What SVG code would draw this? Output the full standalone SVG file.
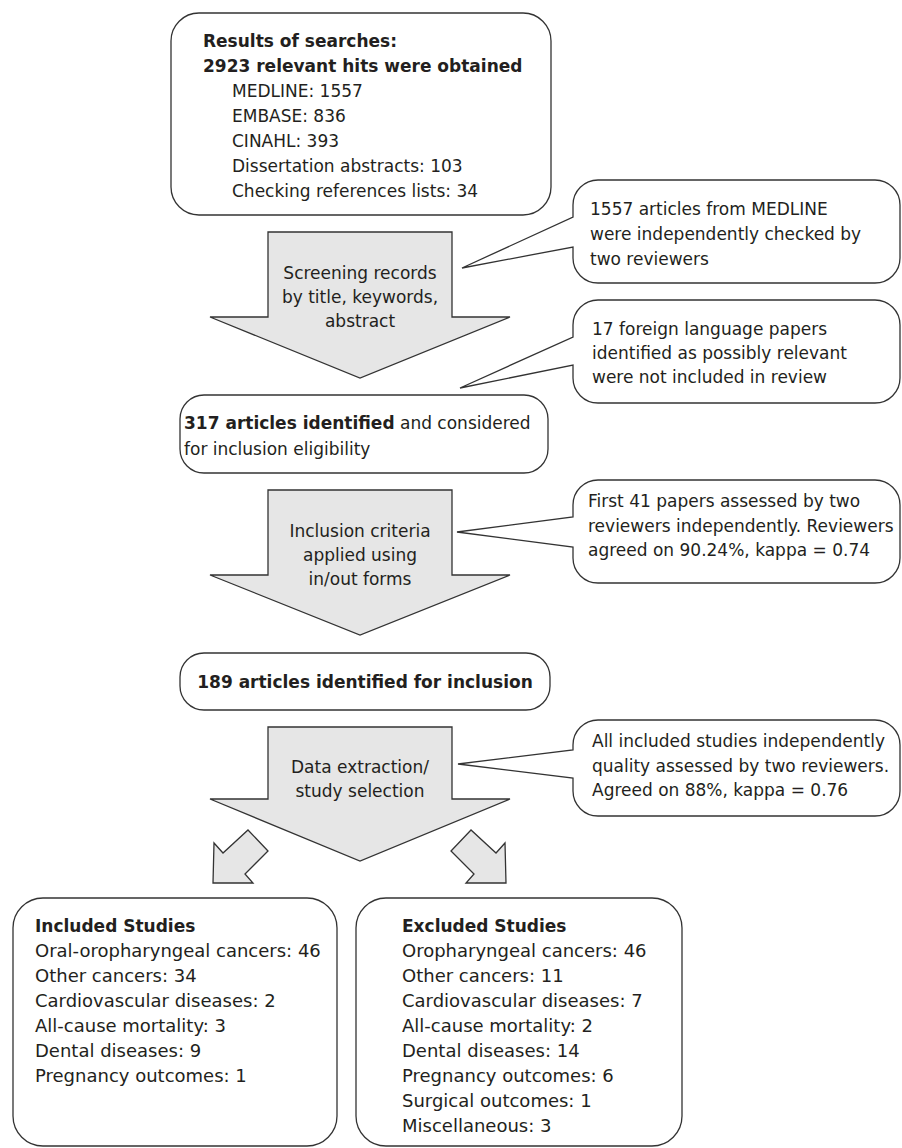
<svg xmlns="http://www.w3.org/2000/svg" width="902" height="1148" viewBox="0 0 902 1148">
<style>
.box{fill:#fff;stroke:#333;stroke-width:1.3}
.arr{fill:#e6e6e6;stroke:#333;stroke-width:1.3;stroke-linejoin:miter}
text{font-family:"DejaVu Sans",Verdana,sans-serif;font-size:17px;fill:#231f20}
.b{font-weight:bold}
.c{text-anchor:middle}
.l{font-size:18px}
</style>
<rect width="902" height="1148" fill="#fff"/>
<g id="connectors">
<polygon class="arr" points="268,232 452,232 452,317 510,317 360,378 210,317 268,317"/>
<polygon class="arr" points="268,490 452,490 452,575 510,575 360,635 210,575 268,575"/>
<polygon class="arr" points="268,727 452,727 452,799 510,799 360,861 210,799 268,799"/>
<polygon class="arr" points="248,830 268,851 245,874 253,883 213,883 214,843 223,853"/>
<polygon class="arr" points="471,830 451,851 474,874 466,883 506,883 505,843 496,853"/>
</g>
<g id="arrow-labels">
<text class="c" x="360" y="279">Screening records</text>
<text class="c" x="360" y="303">by title, keywords,</text>
<text class="c" x="360" y="327">abstract</text>
<text class="c" x="360" y="537">Inclusion criteria</text>
<text class="c" x="360" y="561">applied using</text>
<text class="c" x="360" y="585">in/out forms</text>
<text class="c" x="360" y="773">Data extraction/</text>
<text class="c" x="360" y="797">study selection</text>
</g>
<g id="search-results">
<rect class="box" x="171" y="13" width="380" height="202" rx="28"/>
<text class="b" x="203" y="47">Results of searches:</text>
<text class="b" x="203" y="72">2923 relevant hits were obtained</text>
<text x="232" y="97">MEDLINE: 1557</text>
<text x="232" y="122">EMBASE: 836</text>
<text x="232" y="147">CINAHL: 393</text>
<text x="232" y="172">Dissertation abstracts: 103</text>
<text x="232" y="197">Checking references lists: 34</text>
</g>
<g id="note-medline">
<path class="box" d="M598,180 H875 A25,25 0 0 1 900,205 V258 A25,25 0 0 1 875,283 H598 A25,25 0 0 1 573,258 V247 L462,268 L573,217 V205 A25,25 0 0 1 598,180 Z"/>
<text x="590" y="215">1557 articles from MEDLINE</text>
<text x="590" y="240">were independently checked by</text>
<text x="590" y="265">two reviewers</text>
</g>
<g id="note-foreign">
<path class="box" d="M598,300 H875 A25,25 0 0 1 900,325 V378 A25,25 0 0 1 875,403 H598 A25,25 0 0 1 573,378 V365 L460,388 L573,337 V325 A25,25 0 0 1 598,300 Z"/>
<text x="592" y="335">17 foreign language papers</text>
<text x="592" y="359">identified as possibly relevant</text>
<text x="592" y="383">were not included in review</text>
</g>
<g id="identified-317">
<rect class="box" x="180" y="395" width="368" height="78" rx="24"/>
<text x="184" y="429"><tspan class="b">317 articles identified</tspan> and considered</text>
<text x="184" y="455">for inclusion eligibility</text>
</g>
<g id="note-first41">
<path class="box" d="M598,480 H875 A25,25 0 0 1 900,505 V558 A25,25 0 0 1 875,583 H598 A25,25 0 0 1 573,558 V547 L457,532 L573,517 V505 A25,25 0 0 1 598,480 Z"/>
<text x="588" y="507">First 41 papers assessed by two</text>
<text x="588" y="532">reviewers independently. Reviewers</text>
<text x="588" y="556">agreed on 90.24%, kappa = 0.74</text>
</g>
<g id="identified-189">
<rect class="box" x="180" y="653" width="370" height="57" rx="24"/>
<text class="b c" x="365" y="688">189 articles identified for inclusion</text>
</g>
<g id="note-quality">
<path class="box" d="M598,720 H875 A25,25 0 0 1 900,745 V791 A25,25 0 0 1 875,816 H598 A25,25 0 0 1 573,791 V778 L458,764 L573,750 V745 A25,25 0 0 1 598,720 Z"/>
<text x="592" y="747">All included studies independently</text>
<text x="592" y="772">quality assessed by two reviewers.</text>
<text x="592" y="796">Agreed on 88%, kappa = 0.76</text>
</g>
<g id="included">
<rect class="box" x="13" y="898" width="324" height="248" rx="30"/>
<text class="b" x="35" y="932">Included Studies</text>
<text class="l" x="35" y="957">Oral-oropharyngeal cancers: 46</text>
<text class="l" x="35" y="982">Other cancers: 34</text>
<text class="l" x="35" y="1007">Cardiovascular diseases: 2</text>
<text class="l" x="35" y="1032">All-cause mortality: 3</text>
<text class="l" x="35" y="1057">Dental diseases: 9</text>
<text class="l" x="35" y="1082">Pregnancy outcomes: 1</text>
</g>
<g id="excluded">
<rect class="box" x="356" y="898" width="326" height="248" rx="30"/>
<text class="b" x="402" y="932">Excluded Studies</text>
<text class="l" x="402" y="957">Oropharyngeal cancers: 46</text>
<text class="l" x="402" y="982">Other cancers: 11</text>
<text class="l" x="402" y="1007">Cardiovascular diseases: 7</text>
<text class="l" x="402" y="1032">All-cause mortality: 2</text>
<text class="l" x="402" y="1057">Dental diseases: 14</text>
<text class="l" x="402" y="1082">Pregnancy outcomes: 6</text>
<text class="l" x="402" y="1107">Surgical outcomes: 1</text>
<text class="l" x="402" y="1132">Miscellaneous: 3</text>
</g>
</svg>
